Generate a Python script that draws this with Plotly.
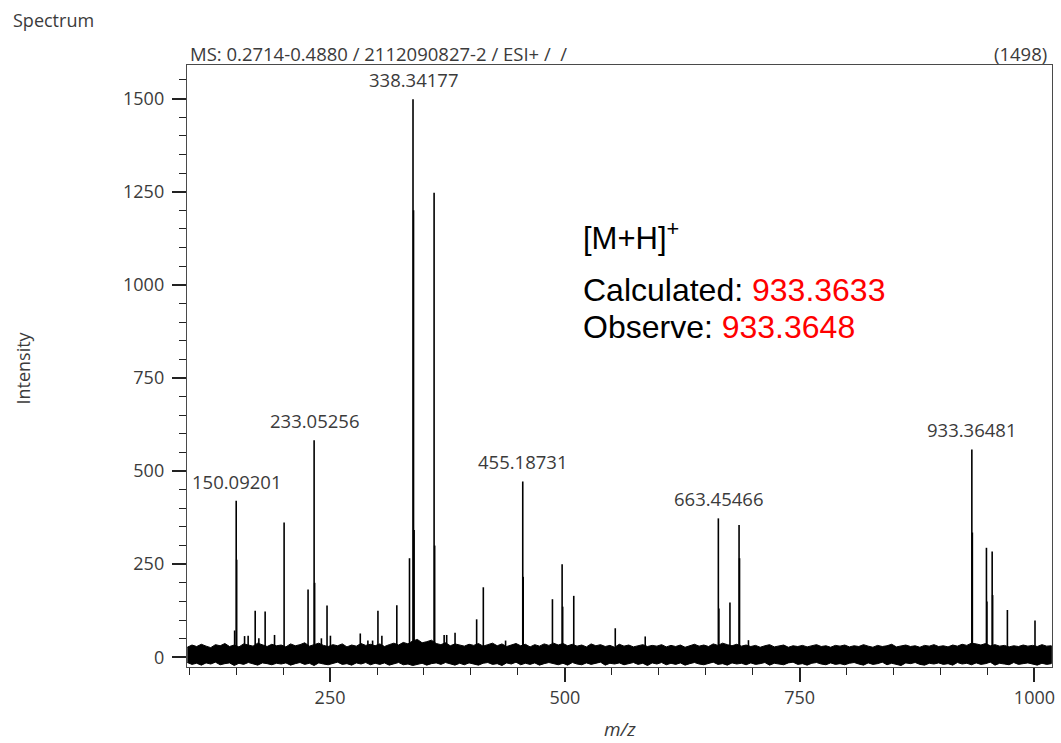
import plotly.graph_objects as go

# ---------------- data ----------------
# stick peaks: m/z and intensity
peak_mz = [148.4, 150.09, 150.6, 159.0, 162.8, 170.3, 174.2, 180.9, 190.9, 201.1,
           226.6, 233.05, 233.6, 240.8, 246.8, 250.4, 282.2, 290.3, 295.3, 301.0,
           305.2, 321.1, 334.6, 338.34, 338.9, 339.5, 360.8, 361.4, 371.5, 374.2,
           383.1, 406.1, 413.2, 436.9, 455.19, 455.7, 486.8, 497.1, 497.7, 509.5,
           553.7, 585.6, 663.45, 664.0, 675.8, 685.5, 686.0, 695.5, 933.36, 933.9,
           948.9, 949.4, 955.0, 955.5, 971.2, 1000.6]
peak_int = [72, 420, 262, 57, 58, 125, 51, 123, 60, 362,
            182, 583, 200, 51, 139, 58, 64, 45, 45, 125,
            58, 140, 266, 1498, 1200, 342, 1247, 300, 60, 60,
            66, 102, 188, 45, 472, 216, 156, 250, 136, 165,
            78, 56, 373, 131, 147, 355, 266, 46, 558, 335,
            294, 150, 284, 167, 127, 99]

# labelled peaks
label_mz = [150.09201, 233.05256, 338.34177, 455.18731, 663.45466, 933.36481]
label_int = [420, 583, 1498, 472, 373, 558]
label_txt = ["150.09201", "233.05256", "338.34177", "455.18731", "663.45466", "933.36481"]

# baseline noise envelope (upper / lower edge of the noise band), every 5 m/z
noise_mz = list(range(98, 1019, 5))
noise_hi = [27, 33, 29, 35, 30, 26, 34, 31, 37, 29, 33, 28, 36, 32, 30, 38, 34, 29, 35, 31,
            33, 28, 36, 31, 34, 39, 30, 35, 38, 32, 29, 34, 31, 36, 28, 33, 30, 37, 32, 35,
            31, 36, 29, 34, 38, 33, 40, 36, 44, 48, 39, 42, 46, 37, 34, 39, 31, 36, 33, 30,
            35, 32, 37, 30, 34, 38, 31, 36, 29, 33, 37, 31, 35, 28, 34, 30, 36, 32, 38, 33,
            37, 31, 35, 30, 33, 28, 36, 31, 34, 29, 32, 27, 35, 30, 33, 28, 31, 34, 29, 32,
            30, 34, 28, 32, 29, 33, 27, 31, 35, 30, 33, 29, 36, 32, 38, 34, 31, 35, 30, 33,
            29, 32, 27, 31, 34, 28, 30, 33, 27, 31, 29, 32, 28, 30, 34, 29, 31, 27, 32, 30,
            33, 28, 31, 29, 34, 30, 27, 32, 29, 31, 35, 28, 30, 33, 29, 31, 27, 32, 30, 34,
            29, 31, 28, 33, 30, 35, 32, 38, 36, 33, 37, 31, 34, 30, 32, 28, 31, 29, 33, 30,
            32, 29, 34, 30, 31]
noise_lo = [-14, -19, -16, -21, -15, -18, -13, -20, -17, -15, -22, -16, -19, -14, -18, -21, -15, -17, -20, -16,
            -18, -15, -21, -17, -14, -19, -16, -22, -15, -18, -20, -16, -13, -19, -17, -21, -15, -18, -14, -20,
            -16, -19, -15, -21, -17, -14, -20, -18, -22, -19, -16, -21, -17, -15, -19, -14, -18, -21, -16, -20,
            -15, -18, -21, -16, -14, -19, -17, -22, -15, -18, -13, -20, -16, -19, -15, -21, -17, -14, -18, -20,
            -16, -21, -14, -18, -20, -15, -19, -17, -13, -21, -16, -18, -15, -20, -17, -14, -19, -16, -22, -15,
            -18, -14, -20, -16, -19, -15, -21, -17, -14, -18, -20, -16, -13, -19, -17, -21, -15, -18, -16, -20,
            -15, -19, -17, -14, -21, -16, -18, -20, -15, -13, -19, -17, -21, -16, -14, -18, -20, -15, -19, -17,
            -20, -16, -14, -18, -21, -15, -19, -17, -13, -20, -16, -18, -22, -15, -17, -14, -19, -21, -16, -18,
            -15, -19, -17, -21, -14, -18, -16, -20, -15, -19, -17, -13, -21, -16, -18, -20, -14, -19, -17, -15,
            -18, -21, -16, -19, -17]

x_ticks = [250, 500, 750, 1000]
y_ticks = [0, 250, 500, 750, 1000, 1250, 1500]

# ---------------- figure ----------------
W, H = 1061, 743
ML, MR, MT, MB = 187, 6, 65, 76
PW, PH = W - ML - MR, H - MT - MB


def px(xp, yp):
    return (xp - ML) / PW, (H - MB - yp) / PH


TXT = "#3b3b3b"
FONT = "Segoe UI, Open Sans, sans-serif"

fig = go.Figure()

# noise band
fig.add_trace(go.Scatter(
    x=noise_mz + noise_mz[::-1],
    y=noise_hi + noise_lo[::-1],
    fill="toself", fillcolor="black", mode="lines",
    line=dict(color="black", width=1), hoverinfo="skip", showlegend=False))

# stick peaks
sx, sy = [], []
for m, v in zip(peak_mz, peak_int):
    sx += [m, m, None]
    sy += [0, v, None]
fig.add_trace(go.Scatter(x=sx, y=sy, mode="lines",
                         line=dict(color="black", width=1.6),
                         hoverinfo="skip", showlegend=False))

annotations = []
for m, v, t in zip(label_mz, label_int, label_txt):
    annotations.append(dict(x=m, y=v, xref="x", yref="y", text=t, showarrow=False,
                            yanchor="bottom", xanchor="center", yshift=5,
                            font=dict(family=FONT, size=18.5, color=TXT)))

x0, y0 = px(10, 20)
annotations.append(dict(x=x0, y=y0, xref="paper", yref="paper", text="Spectrum",
                        showarrow=False, xanchor="left", yanchor="middle",
                        font=dict(family=FONT, size=18, color=TXT)))
x0, y0 = px(188, 54)
annotations.append(dict(x=x0, y=y0, xref="paper", yref="paper",
                        text="MS: 0.2714-0.4880 / 2112090827-2 / ESI+ /&nbsp; /",
                        showarrow=False, xanchor="left", yanchor="middle",
                        font=dict(family=FONT, size=18.5, color=TXT)))
x0, y0 = px(1052, 54)
annotations.append(dict(x=x0, y=y0, xref="paper", yref="paper", text="(1498)",
                        showarrow=False, xanchor="right", yanchor="middle",
                        font=dict(family=FONT, size=18.5, color=TXT)))
x0, y0 = px(22, 368)
annotations.append(dict(x=x0, y=y0, xref="paper", yref="paper", text="Intensity",
                        showarrow=False, xanchor="center", yanchor="middle", textangle=-90,
                        font=dict(family=FONT, size=18, color=TXT)))
x0, y0 = px(621, 729)
annotations.append(dict(x=x0, y=y0, xref="paper", yref="paper", text="<i>m/z</i>",
                        showarrow=False, xanchor="center", yanchor="middle",
                        font=dict(family=FONT, size=19, color=TXT)))

AF = "Liberation Sans, Arial, sans-serif"
x0, y0 = px(582, 236)
annotations.append(dict(x=x0, y=y0, xref="paper", yref="paper", text="[M+H]<sup>+</sup>",
                        showarrow=False, xanchor="left", yanchor="middle",
                        font=dict(family=AF, size=31, color="black")))
x0, y0 = px(582, 290)
annotations.append(dict(x=x0, y=y0, xref="paper", yref="paper",
                        text="Calculated: <span style='color:#ff0000'>933.3633</span>",
                        showarrow=False, xanchor="left", yanchor="middle",
                        font=dict(family=AF, size=32, color="black")))
x0, y0 = px(582, 327)
annotations.append(dict(x=x0, y=y0, xref="paper", yref="paper",
                        text="Observe: <span style='color:#ff0000'>933.3648</span>",
                        showarrow=False, xanchor="left", yanchor="middle",
                        font=dict(family=AF, size=32, color="black")))

axis_common = dict(showgrid=False, zeroline=False, showline=True, mirror=True,
                   linecolor="#4a4a4a", linewidth=1.4,
                   ticks="outside", ticklen=14, tickwidth=1.6, tickcolor="#222",
                   tickfont=dict(family=FONT, size=18, color=TXT))

fig.update_layout(
    width=W, height=H,
    margin=dict(l=ML, r=MR, t=MT, b=MB, pad=0),
    paper_bgcolor="white", plot_bgcolor="white",
    showlegend=False,
    annotations=annotations,
    xaxis=dict(range=[97.7, 1018.7], tickvals=x_ticks,
               minor=dict(dtick=50, tick0=0, ticks="outside", ticklen=7,
                          tickwidth=1.4, tickcolor="#222"),
               **axis_common),
    yaxis=dict(range=[-26, 1590], tickvals=y_ticks, ticklabelstandoff=4,
               minor=dict(dtick=50, tick0=0, ticks="outside", ticklen=7,
                          tickwidth=1.4, tickcolor="#222"),
               **axis_common),
)

fig.write_html("out.html", config={"displayModeBar": False})
